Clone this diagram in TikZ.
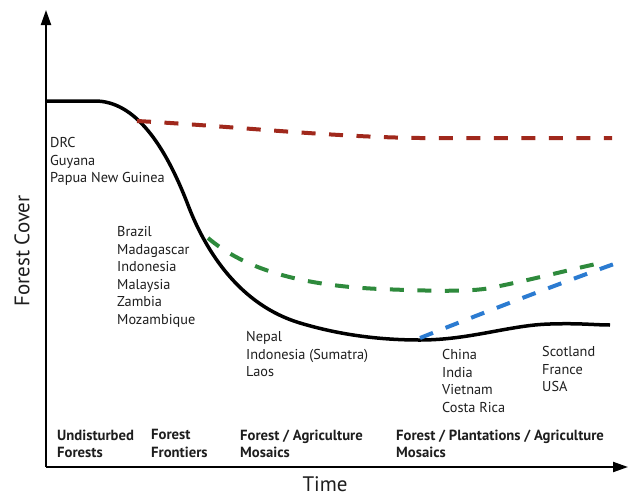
\documentclass[tikz,border=0pt]{standalone}
\usepackage{fontspec}
\setmainfont{PT Sans}
\usetikzlibrary{arrows.meta}
\definecolor{redline}{HTML}{A0281C}
\definecolor{greenline}{HTML}{2E8A3C}
\definecolor{blueline}{HTML}{2B7BD1}
\definecolor{txt}{HTML}{1E1E1E}
\begin{document}
\begin{tikzpicture}[x=1pt,y=-1pt,
  axis/.style={line width=2pt, -{Triangle[length=15pt,width=10pt]}},
  trend/.style={line width=3.5pt, line join=round},
  dashline/.style={line width=4pt, dash pattern=on 14pt off 13.5pt},
  lbl/.style={anchor=north west, inner sep=0pt, align=left, text=txt,
    font=\fontsize{14.3}{17.5}\selectfont},
  stage/.style={lbl, font=\fontsize{14.7}{17.5}\selectfont\bfseries},
  axlbl/.style={inner sep=0pt, text=txt, font=\fontsize{21}{25}\selectfont}
]
\useasboundingbox (0,0) rectangle (629,496);
\fill[white] (0,0) rectangle (629,496);

% axes
\coordinate (O) at (46,467);
\coordinate (ytop) at (46,10);
\coordinate (xend) at (628,467);
\draw[axis] (O) -- (ytop);
\draw[axis] (O) -- (xend);

% curves
\draw[trend] (46,101) -- (95,101)
  .. controls (135,101) and (165,145) .. (188,205)
  .. controls (206,252) and (240,305) .. (300,323)
  .. controls (340,335) and (380,340) .. (420,340)
  .. controls (470,340) and (510,325) .. (550,324)
  .. controls (580,323) and (595,325) .. (610,325);

\draw[dashline, redline] (137,121)
  .. controls (230,126) and (330,137) .. (420,138) -- (612,138);

\draw[dashline, greenline] (208,238)
  .. controls (240,265) and (290,285) .. (380,289)
  .. controls (430,291) and (470,292) .. (490,288)
  .. controls (540,278) and (575,268) .. (606,262);

\draw[dashline, blueline] (420,338)
  .. controls (480,314) and (550,287) .. (614,264);

% country labels
\node[lbl] (c1) at (50,137.5) {DRC\\Guyana\\Papua New Guinea};
\node[lbl] (c2) at (117,226.5) {Brazil\\Madagascar\\Indonesia\\Malaysia\\Zambia\\Mozambique};
\node[lbl] (c3) at (246,331.5) {Nepal\\Indonesia (Sumatra)\\Laos};
\node[lbl] (c4) at (442,349.5) {China\\India\\Vietnam\\Costa Rica};
\node[lbl] (c5) at (542,346.5) {Scotland\\France\\USA};

% stage labels
\node[stage] (s1) at (57,429.5) {Undisturbed\\Forests};
\node[stage] (s2) at (151,429.5) {Forest\\Frontiers};
\node[stage] (s3) at (240,429.5) {Forest / Agriculture\\Mosaics};
\node[stage] (s4) at (396,429.5) {Forest / Plantations / Agriculture\\Mosaics};

% axis labels
\node[axlbl, rotate=90] (ylab) at (22,251) {Forest Cover};
\node[axlbl, anchor=base] (xlab) at (325,491) {Time};
\end{tikzpicture}
\end{document}
